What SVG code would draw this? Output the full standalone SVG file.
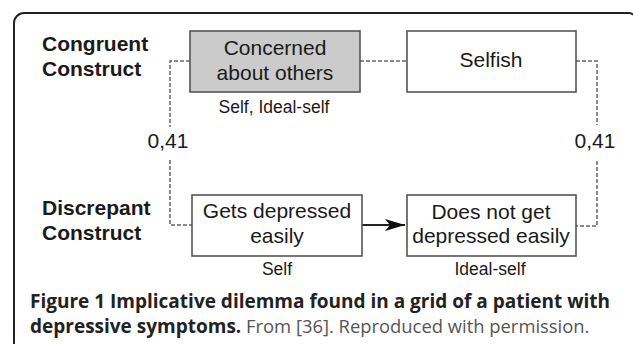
<svg xmlns="http://www.w3.org/2000/svg" width="633" height="344" viewBox="0 0 633 344">
<style>
.lbl{font-family:"Liberation Sans",Arial,sans-serif;font-weight:bold;font-size:21px;fill:#1a1a1a}
.nt{font-family:"Liberation Sans",Arial,sans-serif;font-size:21px;fill:#1a1a1a;text-anchor:middle}
.sub{font-family:"Liberation Sans",Arial,sans-serif;font-size:17.5px;fill:#1a1a1a;text-anchor:middle}
.box{stroke:#555;stroke-width:1.6;fill:#fff}
.dash{stroke:#666;stroke-width:1.5;fill:none;stroke-dasharray:4 2}
.cap{font-family:"Open Sans",sans-serif;font-size:19px}
</style>
<defs>
<marker id="ah" viewBox="0 0 20 12" refX="20" refY="6" markerWidth="20" markerHeight="12" markerUnits="userSpaceOnUse" orient="auto">
<path d="M0,0 L20,6 L0,12 L5,6 Z" fill="#111"/>
</marker>
</defs>
<rect x="0" y="0" width="633" height="344" fill="#fff"/>
<rect x="14" y="13" width="624" height="400" rx="10" fill="none" stroke="#222" stroke-width="2"/>
<g id="labels">
<text class="lbl" x="42" y="51">Congruent</text>
<text class="lbl" x="42" y="76">Construct</text>
<text class="lbl" x="42" y="215">Discrepant</text>
<text class="lbl" x="42" y="240">Construct</text>
</g>
<g id="connectors">
<path class="dash" d="M190,61 H170 V127"/>
<path class="dash" d="M170,160 V225 H192"/>
<path class="dash" d="M360,61 H407"/>
<path class="dash" d="M576,61 H597 V125"/>
<path class="dash" d="M597,161 V226 H576"/>
<line x1="362" y1="225" x2="405" y2="225" stroke="#222" stroke-width="1.8" marker-end="url(#ah)"/>
<text class="nt" x="168" y="148">0,41</text>
<text class="nt" x="595" y="148">0,41</text>
</g>
<g id="n1">
<rect class="box" x="190" y="31" width="170" height="61" style="fill:#cbcbcb"/>
<text class="nt" x="275" y="55">Concerned</text>
<text class="nt" x="275" y="80">about others</text>
<text class="sub" x="274" y="113">Self, Ideal-self</text>
</g>
<g id="n2">
<rect class="box" x="407" y="31" width="169" height="61"/>
<text class="nt" x="491" y="67">Selfish</text>
</g>
<g id="n3">
<rect class="box" x="192" y="195" width="170" height="61"/>
<text class="nt" x="277" y="218">Gets depressed</text>
<text class="nt" x="277" y="243">easily</text>
<text class="sub" x="277" y="275">Self</text>
</g>
<g id="n4">
<rect class="box" x="407" y="195" width="169" height="61"/>
<text class="nt" x="491" y="219">Does not get</text>
<text class="nt" x="491" y="243">depressed easily</text>
<text class="sub" x="490" y="275">Ideal-self</text>
</g>
<g id="caption">
<text class="cap" x="30" y="308" font-weight="bold" fill="#222">Figure 1 Implicative dilemma found in a grid of a patient with</text>
<text class="cap" x="30" y="333"><tspan font-weight="bold" fill="#222">depressive symptoms.</tspan><tspan fill="#555" font-size="18.4px"> From [36]. Reproduced with permission.</tspan></text>
</g>
</svg>
